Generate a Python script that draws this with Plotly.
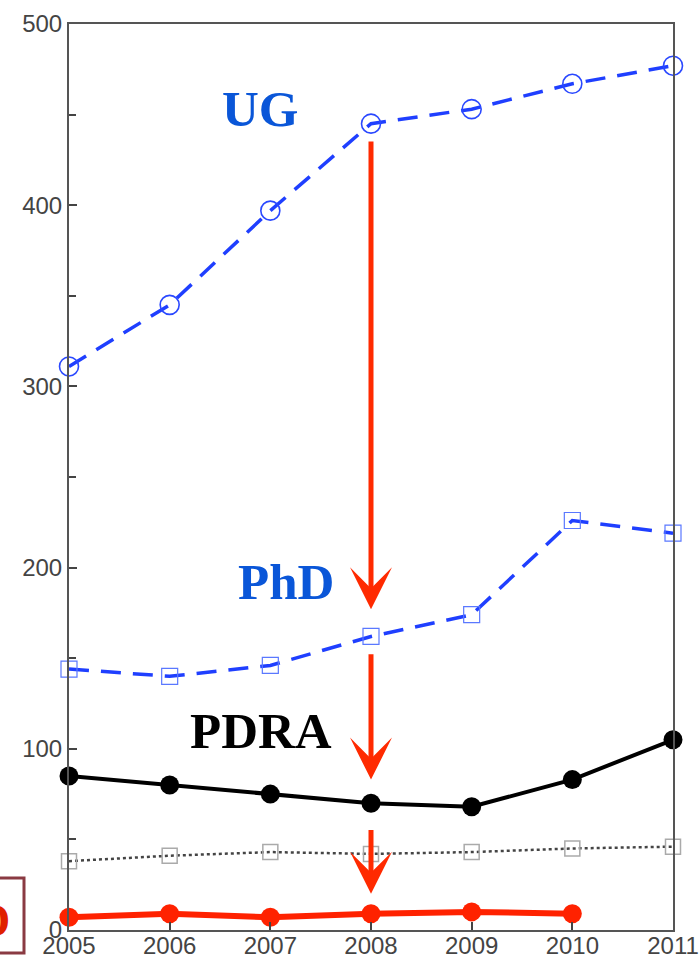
import plotly.graph_objects as go

years = [2005, 2006, 2007, 2008, 2009, 2010, 2011]
ug = [311, 345, 397, 445, 453, 467, 477]
phd = [144, 140, 146, 162, 174, 226, 219]
pdra = [85, 80, 75, 70, 68, 83, 105]
other = [38, 41, 43, 42, 43, 45, 46]
red_years = [2005, 2006, 2007, 2008, 2009, 2010]
red_vals = [7, 9, 7, 9, 10, 9]

# arrows at 2008: (tail value, tip value)
arrow_x = 2008
arrows = [(436, 177), (153, 83), (56, 20)]

labels = [("UG", 2006.9, 453, "#0a56d8"), ("PhD", 2007.16, 192, "#0a56d8"), ("PDRA", 2006.91, 110, "#000000")]

fig = go.Figure()

fig.add_trace(go.Scatter(x=years, y=other, mode="lines+markers", cliponaxis=False,
                         line=dict(color="#444444", width=2.5, dash="3px,3px"),
                         marker=dict(symbol="square-open", size=15, color="#aaaaaa", line=dict(width=1.5))))
fig.add_trace(go.Scatter(x=years, y=phd, mode="lines+markers", cliponaxis=False,
                         line=dict(color="#1f3fff", width=3.5, dash="20px,12px"),
                         marker=dict(symbol="square-open", size=16, color="#5a78ff", line=dict(width=1.2))))
fig.add_trace(go.Scatter(x=years, y=ug, mode="lines+markers", cliponaxis=False,
                         line=dict(color="#1f3fff", width=3.5, dash="20px,12px"),
                         marker=dict(symbol="circle-open", size=19, color="#2a48ff", line=dict(width=1.6))))
fig.add_trace(go.Scatter(x=years, y=pdra, mode="lines+markers", cliponaxis=False,
                         line=dict(color="#000000", width=4),
                         marker=dict(symbol="circle", size=19, color="#000000")))
fig.add_trace(go.Scatter(x=red_years, y=red_vals, mode="lines+markers", cliponaxis=False,
                         line=dict(color="#ff2200", width=6),
                         marker=dict(symbol="circle", size=19, color="#ff2200")))

for tail, tip in arrows:
    fig.add_annotation(x=arrow_x, y=tip, ax=arrow_x, ay=tail, xref="x", yref="y",
                       axref="x", ayref="y", text="", showarrow=True,
                       arrowhead=3, arrowsize=1.4, arrowwidth=5, arrowcolor="#ff2a00")

for txt, lx, ly, col in labels:
    fig.add_annotation(x=lx, y=ly, xref="x", yref="y", text="<b>" + txt + "</b>", showarrow=False,
                       font=dict(family="Liberation Serif", size=51, color=col))

# partially visible boxed label at bottom-left
fig.add_shape(type="rect", xref="paper", yref="paper",
              x0=(-20 - 69) / 604, x1=(24 - 69) / 604, y0=(930 - 953) / 906, y1=(930 - 878) / 906,
              line=dict(color="#8a3a42", width=3))
fig.add_annotation(xref="paper", yref="paper", x=(12 - 69) / 604, y=(930 - 920) / 906,
                   xanchor="right", yanchor="middle", text="<b>D</b>", showarrow=False,
                   font=dict(family="Liberation Serif", size=46, color="#e02000"))

fig.update_layout(
    width=699, height=957,
    margin=dict(l=69, r=26, t=24, b=27),
    plot_bgcolor="white", paper_bgcolor="white",
    showlegend=False,
    font=dict(family="Liberation Sans", size=24, color="#444444"),
)
fig.update_xaxes(range=[2005, 2011], tickvals=years, ticks="inside", ticklen=8, tickwidth=1.5,
                 tickcolor="#444444", showline=True, linecolor="#555555", linewidth=2, mirror=True,
                 showgrid=False, zeroline=False, automargin=False, ticklabelstandoff=-7,
                 tickfont=dict(size=24, color="#444444"))
fig.update_yaxes(range=[0, 500], tickvals=[0, 100, 200, 300, 400, 500], ticks="inside", ticklen=8,
                 tickwidth=1.5, tickcolor="#444444", showline=True, linecolor="#555555", linewidth=2,
                 mirror=True, showgrid=False, zeroline=False, automargin=False,
                 tickfont=dict(size=24, color="#444444"),
                 minor=dict(tickvals=[50, 150, 250, 350, 450], ticks="inside", ticklen=7, tickwidth=1.5,
                            tickcolor="#444444"))

fig.write_html("out.html", config={"displayModeBar": False},
               post_script="document.body.style.margin='0';document.body.style.overflow='hidden';")
